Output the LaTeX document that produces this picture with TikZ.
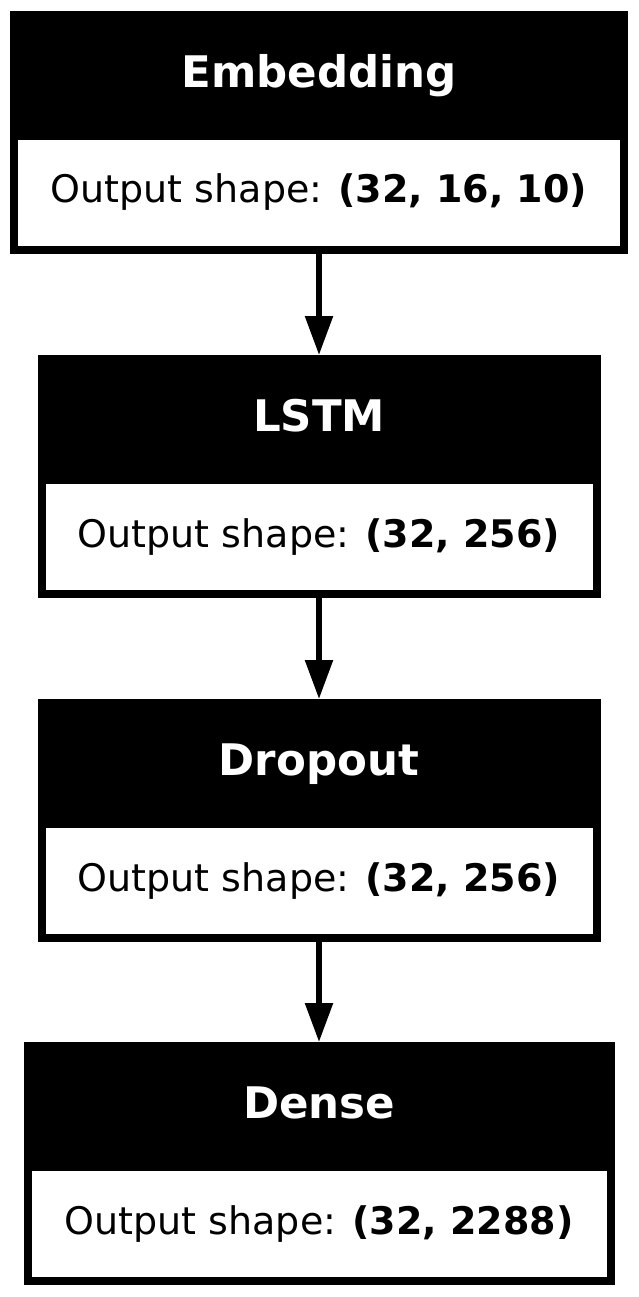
\documentclass[tikz,border=0pt]{standalone}
\usepackage{fontspec}
\setmainfont{DejaVu Sans}
\usetikzlibrary{arrows.meta}

\begin{document}
\begin{tikzpicture}[x=1pt,y=-1pt,
    layerhead/.style={fill=black,text=white,inner sep=0,outer sep=0,minimum height=129,
      text height=31,text depth=7,font=\fontsize{43.5}{50}\selectfont\bfseries},
    layerout/.style={draw=black,fill=white,line width=8,inner sep=0,minimum height=114,
      text height=28,text depth=8,font=\fontsize{38}{46}\selectfont},
    flow/.style={-{Triangle[length=39,width=27]},line width=5.5}]
    \useasboundingbox (0,0) rectangle (638,1297);

    \node[layerhead,minimum width=618] (emb) at (319,75.5) {Embedding};
    \node[layerout,minimum width=610] (embout) at (319,193) {Output shape: \textbf{(32, 16, 10)}};

    \node[layerhead,minimum width=563] (lstm) at (319,419.5) {LSTM};
    \node[layerout,minimum width=555] (lstmout) at (319,537) {Output shape: \textbf{(32, 256)}};

    \node[layerhead,minimum width=563] (drop) at (319,763.5) {Dropout};
    \node[layerout,minimum width=555] (dropout) at (319,881) {Output shape: \textbf{(32, 256)}};

    \node[layerhead,minimum width=591] (dense) at (319,1106.5) {Dense};
    \node[layerout,minimum width=583] (denseout) at (319,1224) {Output shape: \textbf{(32, 2288)}};

    \draw[flow] (embout) -- (lstm);
    \draw[flow] (lstmout) -- (drop);
    \draw[flow] (dropout) -- (dense);

\end{tikzpicture}
\end{document}
